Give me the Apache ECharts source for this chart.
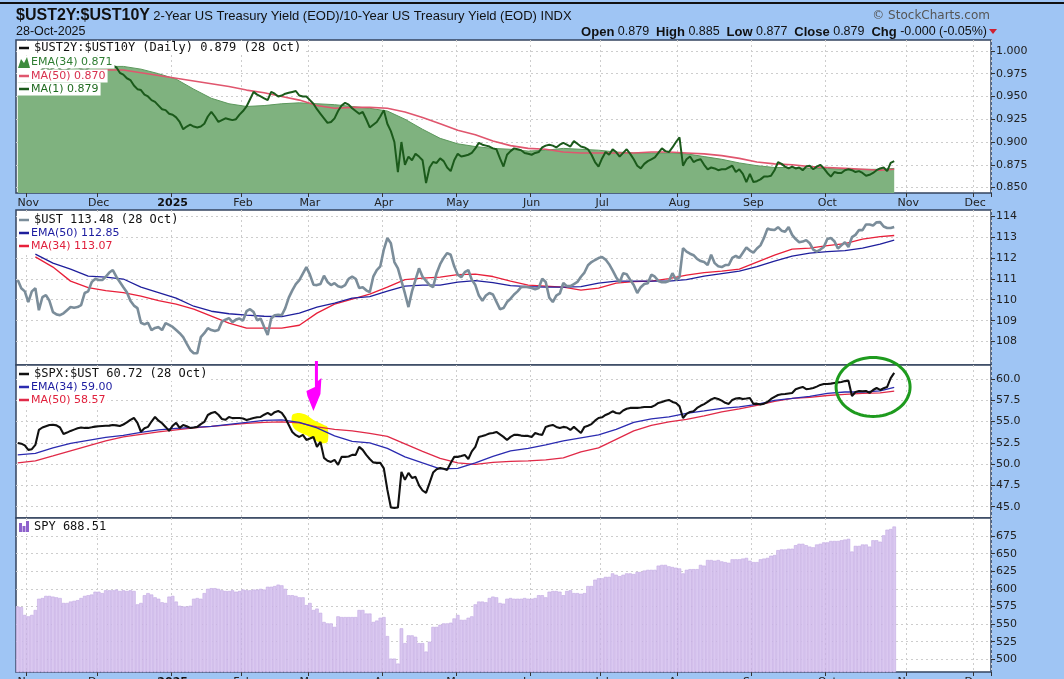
<!DOCTYPE html>
<html>
<head>
<meta charset="utf-8">
<script src="https://cdn.jsdelivr.net/npm/echarts@6/dist/echarts.min.js"></script>
<style>
html, body { margin: 0; padding: 0; background: #9fc5f4; }
#chart { width: 1064px; height: 679px; }
</style>
</head>
<body>
<div id="chart"></div>
<script>
// trading days, Oct 29 2024 .. Dec 5 2025 (the x axis runs past the last close)
var holidays = ['2024-11-28','2024-12-25','2025-01-01','2025-01-09','2025-01-20','2025-02-17',
  '2025-04-18','2025-05-26','2025-06-19','2025-07-04','2025-09-01','2025-11-27'];
var days = [];
(function () {
  var t = Date.UTC(2024, 9, 29), end = Date.UTC(2025, 11, 5);
  for (; t <= end; t += 86400000) {
    var d = new Date(t), s = d.toISOString().slice(0, 10), wd = d.getUTCDay();
    if (wd > 0 && wd < 6 && holidays.indexOf(s) < 0) days.push(s);
  }
})();
var monthNames = ['Jan','Feb','Mar','Apr','May','Jun','Jul','Aug','Sep','Oct','Nov','Dec'];

// $UST2Y:$UST10Y daily close (MA(1))
var ratio = [
  0.968,0.970,0.966,0.972,0.975,0.978,0.976,0.980,0.982,0.979,
  0.981,0.984,0.980,0.977,0.979,0.982,0.985,0.983,0.980,0.978,
  0.981,0.984,0.986,0.988,0.985,0.983,0.986,0.984,0.982,0.976,
  0.974,0.970,0.968,0.962,0.958,0.957,0.952,0.950,0.946,0.944,
  0.940,0.936,0.935,0.931,0.930,0.927,0.922,0.914,0.917,0.919,
  0.917,0.916,0.917,0.920,0.928,0.933,0.928,0.922,0.924,0.926,
  0.925,0.924,0.925,0.930,0.934,0.939,0.947,0.955,0.952,0.950,
  0.948,0.946,0.955,0.953,0.950,0.951,0.953,0.954,0.955,0.956,
  0.951,0.950,0.950,0.946,0.942,0.936,0.931,0.926,0.921,0.922,
  0.926,0.934,0.940,0.943,0.941,0.937,0.934,0.931,0.933,0.925,
  0.916,0.919,0.922,0.928,0.935,0.920,0.912,0.900,0.867,0.900,
  0.875,0.884,0.880,0.887,0.884,0.880,0.855,0.872,0.878,0.877,
  0.882,0.879,0.872,0.868,0.880,0.887,0.884,0.885,0.886,0.888,
  0.893,0.899,0.897,0.896,0.895,0.893,0.892,0.882,0.873,0.886,
  0.890,0.893,0.892,0.891,0.888,0.887,0.886,0.888,0.889,0.894,
  0.896,0.897,0.896,0.894,0.897,0.899,0.897,0.895,0.901,0.898,
  0.895,0.894,0.892,0.886,0.878,0.873,0.882,0.889,0.886,0.892,
  0.889,0.884,0.888,0.892,0.887,0.881,0.874,0.871,0.876,0.879,
  0.881,0.883,0.888,0.893,0.890,0.889,0.894,0.900,0.905,0.874,
  0.881,0.884,0.878,0.880,0.881,0.875,0.870,0.872,0.871,0.869,
  0.870,0.870,0.872,0.874,0.867,0.870,0.865,0.856,0.865,0.856,
  0.857,0.859,0.862,0.862,0.863,0.869,0.878,0.876,0.873,0.871,
  0.873,0.871,0.872,0.869,0.873,0.874,0.870,0.873,0.875,0.871,
  0.866,0.862,0.867,0.866,0.866,0.869,0.870,0.869,0.867,0.868,
  0.866,0.863,0.864,0.866,0.869,0.871,0.872,0.868,0.877,0.879
];
// moving averages are read every 5th trading day (plus the last close)
var maDays = [];
for (var k = 0; k < 50; k++) maDays.push(k * 5);
maDays.push(249);

var ratioEma34 = [0.976,0.977,0.979,0.980,0.982,0.983,0.983,0.980,0.975,0.969,
  0.958,0.948,0.942,0.939,0.940,0.942,0.943,0.942,0.941,0.939,
  0.937,0.934,0.925,0.914,0.904,0.898,0.895,0.893,0.892,0.890,
  0.891,0.893,0.892,0.891,0.889,0.888,0.888,0.888,0.887,0.884,
  0.881,0.877,0.874,0.872,0.872,0.871,0.871,0.870,0.870,0.870,0.871];
var ratioMa50 = [0.970,0.972,0.974,0.976,0.978,0.979,0.979,0.976,0.973,0.970,
  0.967,0.964,0.961,0.957,0.954,0.950,0.946,0.940,0.937,0.938,
  0.938,0.937,0.933,0.927,0.920,0.913,0.908,0.901,0.896,0.893,
  0.892,0.889,0.888,0.888,0.888,0.888,0.889,0.889,0.888,0.887,
  0.885,0.882,0.878,0.876,0.875,0.873,0.872,0.871,0.870,0.869,0.870];

// $UST
var ust = [
  110.94,110.55,110.40,109.89,110.40,110.55,109.50,110.12,110.22,109.95,
  109.41,109.30,109.26,109.35,109.50,109.65,109.62,109.65,109.74,110.32,
  110.40,110.84,111.00,110.94,110.94,111.10,111.30,111.42,111.10,110.85,
  110.60,110.36,109.95,109.72,109.60,108.90,108.82,108.90,108.55,108.65,
  108.69,108.55,108.88,108.80,108.70,108.55,108.40,108.21,107.90,107.60,
  107.44,107.44,108.21,108.40,108.64,108.55,108.50,108.55,108.95,109.05,
  109.12,108.93,109.05,109.10,109.00,109.45,109.55,109.41,109.02,109.10,
  108.70,108.31,109.10,109.26,109.28,109.26,109.60,110.10,110.45,110.75,
  110.94,111.25,111.56,111.20,110.72,110.70,110.75,111.15,110.85,110.70,
  110.79,110.65,110.60,110.70,111.00,111.10,111.00,110.56,110.60,110.45,
  110.36,111.10,111.42,111.60,112.40,112.95,112.70,111.80,111.50,110.90,
  110.30,109.65,110.40,110.95,111.50,111.10,110.90,110.70,110.60,111.27,
  111.70,112.00,112.23,112.15,111.60,111.20,111.08,111.32,111.42,110.95,
  110.70,110.20,109.95,110.20,110.32,110.25,109.90,109.55,109.60,109.89,
  110.05,110.25,110.40,110.60,110.62,110.60,110.56,110.50,110.56,111.00,
  110.85,110.10,109.89,110.20,110.30,110.80,110.65,110.65,110.75,110.85,
  111.10,111.30,111.65,111.80,111.90,111.99,112.04,111.92,111.70,111.40,
  111.08,110.84,111.27,111.22,110.95,110.70,110.32,110.60,110.75,110.79,
  111.20,111.10,110.90,110.84,110.84,110.90,111.27,110.95,111.08,112.47,
  112.30,112.20,112.13,111.95,111.85,111.80,111.66,112.15,111.75,111.60,
  111.56,111.66,111.66,112.00,112.10,112.00,112.25,112.50,112.35,112.25,
  112.45,112.60,112.95,113.40,113.35,113.33,113.47,113.30,113.25,113.47,
  113.10,112.90,112.75,112.78,112.85,112.70,112.40,112.30,112.40,112.52,
  112.90,112.95,112.80,112.45,112.60,112.75,112.52,112.99,113.10,113.33,
  113.33,113.60,113.60,113.55,113.70,113.71,113.50,113.43,113.43,113.48
];
var ustEma50 = [null,112.18,111.75,111.46,111.13,111.08,110.99,110.60,110.34,110.08,
  109.69,109.45,109.33,109.26,109.21,109.19,109.36,109.65,109.84,110.08,
  110.15,110.41,110.65,110.70,110.70,110.84,110.91,110.82,110.67,110.63,
  110.60,110.60,110.63,110.79,110.89,110.89,110.89,110.89,110.96,111.13,
  111.25,111.37,111.58,111.85,112.09,112.23,112.30,112.35,112.47,112.66,112.85];
var ustMa34 = [null,112.05,111.56,110.89,110.58,110.44,110.34,110.17,109.96,109.79,
  109.55,109.22,108.88,108.64,108.64,108.64,108.78,109.36,109.79,110.03,
  110.27,110.60,110.96,111.03,111.08,111.20,111.22,111.11,110.89,110.70,
  110.65,110.60,110.46,110.56,110.79,110.87,110.89,111.01,111.18,111.30,
  111.37,111.46,111.80,112.13,112.42,112.47,112.59,112.68,112.90,113.02,113.07];

// $SPX:$UST
var spxUst = [
  52.49,52.40,52.20,51.67,51.75,52.25,54.01,54.30,54.45,54.60,
  54.62,54.55,54.30,53.54,53.70,53.90,54.05,54.20,54.30,54.25,
  54.25,54.32,54.40,54.45,54.48,54.50,54.52,54.60,54.55,54.48,
  54.65,54.90,55.20,55.42,54.84,53.80,54.20,54.37,55.00,55.54,
  55.10,54.80,54.37,53.90,54.50,54.84,54.25,54.60,54.45,54.25,
  54.30,54.37,54.70,54.95,55.77,56.00,56.13,55.80,55.30,55.20,
  55.54,55.40,55.42,55.42,55.35,55.19,55.30,55.42,55.50,55.54,
  55.80,56.01,55.77,56.10,56.24,56.01,55.42,54.60,53.78,53.40,
  53.19,53.43,52.84,53.00,53.19,52.02,52.61,50.73,50.40,50.26,
  50.49,49.91,50.85,50.85,50.90,51.08,51.08,52.02,51.67,51.08,
  50.60,50.20,50.14,50.14,49.50,47.00,44.90,44.86,44.90,49.08,
  48.15,48.97,48.38,48.50,47.50,46.90,46.62,47.79,49.00,49.40,
  49.55,49.45,49.32,50.14,50.85,50.85,50.95,51.08,50.60,51.50,
  52.02,53.19,53.30,53.43,53.60,53.66,53.78,53.50,53.20,52.84,
  53.20,53.43,53.43,53.35,53.31,53.31,53.19,53.66,53.50,53.43,
  54.37,54.50,54.60,54.37,54.25,54.37,54.30,54.01,54.37,54.00,
  53.66,54.37,54.50,54.70,55.10,55.42,55.50,55.77,55.95,56.20,
  56.01,55.95,56.30,56.50,56.60,56.62,56.60,56.65,56.71,56.71,
  56.70,56.90,57.18,57.30,57.45,57.54,57.30,57.18,56.80,55.42,
  55.90,56.13,56.20,56.60,56.85,57.05,57.30,57.60,57.77,57.65,
  57.45,57.20,57.07,57.54,57.70,57.75,57.65,57.70,57.77,57.07,
  57.10,57.00,57.10,57.30,57.65,57.90,58.12,58.20,58.24,58.30,
  58.36,58.80,58.94,59.06,58.80,58.85,58.94,59.10,59.30,59.41,
  59.41,59.45,59.53,59.60,59.65,59.75,59.80,58.00,58.47,58.59,
  58.55,58.59,58.36,58.70,58.94,58.71,58.90,59.06,60.10,60.72
];
var spxEma34 = [51.08,51.26,51.90,52.43,52.78,53.13,53.37,53.72,54.01,54.19,
  54.31,54.42,54.66,54.89,55.13,55.19,54.89,54.25,53.31,52.66,
  52.49,51.84,50.85,50.14,49.44,49.50,50.14,50.90,51.55,51.84,
  52.25,52.72,53.08,53.43,54.07,54.89,55.31,55.54,55.95,56.24,
  56.54,56.71,57.01,57.48,57.71,57.95,58.30,58.47,58.47,58.59,59.00];
var spxMa50 = [50.14,50.38,50.96,51.55,52.14,52.72,53.19,53.49,53.78,54.01,
  54.25,54.42,54.60,54.78,54.89,54.95,54.84,54.37,54.07,53.90,
  53.60,53.25,52.37,51.49,50.67,50.14,49.96,50.20,50.32,50.38,
  50.49,50.73,51.43,51.90,52.90,53.90,54.54,54.95,55.25,55.66,
  56.13,56.48,56.89,57.36,57.71,57.83,58.06,58.18,58.30,58.36,58.57];

// SPY close
var spy = [
  575,574,563,561,563,570,586,587,590,590,
  589,588,587,580,580,582,583,584,587,590,
  591,592,596,596,594,598,598,598,599,597,
  598,597,598,597,578,580,591,594,592,588,
  586,581,580,589,590,582,576,575,575,576,
  586,587,586,594,600,601,601,600,598,597,
  597,598,596,597,599,598,598,599,599,600,
  599,603,603,604,606,605,600,591,591,590,
  588,588,577,580,570,572,566,553,551,551,
  546,561,560,560,560,560,560,570,570,565,
  565,553,555,559,560,533,501,501,494,544,
  523,534,534,532,523,523,511,525,546,546,
  549,551,551,552,558,563,556,556,559,561,
  578,582,582,581,587,589,588,580,579,586,
  587,586,586,586,587,586,586,587,591,591,
  588,596,597,597,596,591,597,598,594,594,
  593,594,604,604,613,615,615,617,617,622,
  620,618,620,622,622,621,624,624,626,627,
  627,627,633,634,634,632,631,630,629,622,
  627,628,628,628,634,633,641,641,640,641,
  639,638,637,642,642,642,643,644,640,638,
  638,642,643,644,647,648,655,656,656,657,
  657,662,664,664,662,660,659,663,664,666,
  666,668,668,668,669,670,671,653,661,661,
  663,663,660,669,669,667,676,684,685,688.51
];

// y tick labels per panel
var ratioTicks = [0.85, 0.875, 0.9, 0.925, 0.95, 0.975, 1.0];
var ustTicks = [108, 109, 110, 111, 112, 113, 114];
var spxTicks = [45, 47.5, 50, 52.5, 55, 57.5, 60];
var spyTicks = [500, 525, 550, 575, 600, 625, 650, 675];

function pairs(vals) {
  var out = [];
  for (var j = 0; j < vals.length; j++) {
    if (vals[j] != null) out.push([maDays[j], vals[j]]);
  }
  return out;
}
function isMonthStart(i) {
  return i > 0 && days[i].slice(0, 7) !== days[i - 1].slice(0, 7);
}
function monthLabel(v) {
  var m = +v.slice(5, 7);
  return m === 1 ? '{y|' + v.slice(0, 4) + '}' : monthNames[m - 1];
}

var gridLine = { color: '#cdcdcd', type: [2, 3], width: 1 };
var panelBorder = '#34445f';

function xAxisFor(gi, labels, margin) {
  return {
    type: 'category', gridIndex: gi, data: days, boundaryGap: true,
    axisLine: { show: false },
    axisTick: { show: labels, interval: isMonthStart, length: 4, lineStyle: { color: '#333' } },
    axisLabel: {
      show: labels, interval: isMonthStart, formatter: monthLabel, margin: margin || 5,
      color: '#222', fontSize: 11, fontFamily: 'DejaVu Sans',
      rich: { y: { fontWeight: 'bold', fontSize: 11, fontFamily: 'DejaVu Sans', color: '#111' } }
    },
    splitLine: { show: true, interval: isMonthStart, lineStyle: gridLine }
  };
}
function yAxisFor(gi, min, max, ticks, dec) {
  return {
    type: 'value', gridIndex: gi, position: 'right', min: min, max: max,
    axisLine: { show: false },
    axisTick: { show: true, length: 4, customValues: ticks, lineStyle: { color: '#333' } },
    axisLabel: {
      customValues: ticks, margin: 5, color: '#222', fontSize: 11, fontFamily: 'DejaVu Sans',
      formatter: function (v) { return v.toFixed(dec); }
    },
    splitLine: { show: true, lineStyle: gridLine }
  };
}
function gridFor(top, height) {
  return { left: 16, right: 73, top: top, height: height, show: true, outerBoundsMode: 'none',
    containLabel: false, backgroundColor: '#fff', borderColor: panelBorder, borderWidth: 1.5 };
}
function line(xi, data, color, width, z) {
  return { type: 'line', xAxisIndex: xi, yAxisIndex: xi, data: data, symbol: 'none',
    lineStyle: { color: color, width: width }, z: z || 3, animation: false };
}

var chart = echarts.init(document.getElementById('chart'));
var option = {
  backgroundColor: '#9fc5f4',
  animation: false,
  grid: [gridFor(40, 153), gridFor(210, 155), gridFor(365, 153), gridFor(518, 154)],
  xAxis: [xAxisFor(0, true), xAxisFor(1, false), xAxisFor(2, false), xAxisFor(3, true, 5)],
  yAxis: [
    yAxisFor(0, 0.844, 1.012, ratioTicks, 3),
    yAxisFor(1, 106.88, 114.29, ustTicks, 0),
    yAxisFor(2, 43.67, 61.64, spxTicks, 1),
    yAxisFor(3, 482, 700.6, spyTicks, 0)
  ],
  series: [
    {
      type: 'line', xAxisIndex: 0, yAxisIndex: 0, data: pairs(ratioEma34), symbol: 'none',
      lineStyle: { color: '#5c985c', width: 1 },
      areaStyle: { color: '#7fb27f', opacity: 1, origin: 'start' }, z: 2
    },
    line(0, pairs(ratioMa50), '#e0566e', 1.6),
    line(0, ratio, '#1b5a1b', 2),
    line(1, pairs(ustMa34), '#e8203a', 1.3),
    line(1, pairs(ustEma50), '#1f1f9c', 1.3),
    line(1, ust, '#7b8d9a', 2.6, 4),
    line(2, pairs(spxMa50), '#e02a48', 1.3),
    line(2, pairs(spxEma34), '#2b2bb0', 1.3),
    line(2, spxUst, '#111111', 2.1, 4),
    {
      type: 'bar', xAxisIndex: 3, yAxisIndex: 3, data: spy, barCategoryGap: '0%',
      itemStyle: { color: '#dac8f0', borderColor: '#c2a9e3', borderWidth: 0.6 }, clip: true
    }
  ]
};
chart.setOption(option);

// header, legends and the hand-drawn marks
var mono = '12px "DejaVu Sans Mono"';
var prop = '11px "DejaVu Sans"';
var els = [];
// each legend row sits on a white strip that starts at the panel edge
function legendText(y, text, color, font, lead) {
  els.push({ type: 'text', x: 17, y: y, z: 100,
    style: { text: text, font: font, fill: color, verticalAlign: 'middle',
      backgroundColor: '#fff', padding: [1, 2, 1, lead] } });
}
function dash(y, color) {
  els.push({ type: 'rect', z: 101, shape: { x: 19, y: y - 1.25, width: 10, height: 2.5 },
    style: { fill: color } });
}

els.push({ type: 'rect', z: 100, shape: { x: 0, y: 2, width: 1064, height: 2 }, style: { fill: '#111' } });
els.push({ type: 'text', x: 16, y: 16, z: 100, style: {
  text: '{t|$UST2Y:$UST10Y} {s|2-Year US Treasury Yield (EOD)/10-Year US Treasury Yield (EOD) INDX}',
  verticalAlign: 'middle',
  rich: {
    t: { font: 'bold 16px "Liberation Sans"', fill: '#111' },
    s: { font: '13px "Liberation Sans"', fill: '#111' }
  } } });
els.push({ type: 'text', x: 16, y: 32, z: 100, style: { text: '28-Oct-2025',
  font: '12.5px "Liberation Sans"', fill: '#111', verticalAlign: 'middle' } });
els.push({ type: 'text', x: 990, y: 16, z: 100, style: { text: '\u00a9 StockCharts.com',
  font: '12px "DejaVu Sans"', fill: '#555', align: 'right', verticalAlign: 'middle' } });
els.push({ type: 'text', x: 987, y: 32, z: 100, style: {
  text: '{b|Open} 0.879  {b|High} 0.885  {b|Low} 0.877  {b|Close} 0.879  {b|Chg} -0.000 (-0.05%)',
  font: '12.5px "Liberation Sans"', fill: '#111', align: 'right', verticalAlign: 'middle',
  rich: { b: { font: 'bold 13px "Liberation Sans"', fill: '#111' } } } });
els.push({ type: 'polygon', z: 100, shape: { points: [[989, 29], [997, 29], [993, 34]] },
  style: { fill: '#d02030' } });

// panel 1 legend
legendText(48, '$UST2Y:$UST10Y (Daily) 0.879 (28 Oct)', '#111', mono, 17);
dash(48, '#111');
legendText(62, 'EMA(34) 0.871', '#2e7d32', prop, 14);
els.push({ type: 'polygon', z: 101, shape: { points: [[18, 68], [21, 59], [24, 63], [27, 57], [30, 68]] },
  style: { fill: '#3d8b3d' } });
legendText(76, 'MA(50) 0.870', '#d8304e', prop, 14);
dash(76, '#e0566e');
legendText(89, 'MA(1) 0.879', '#1f6b1f', prop, 14);
dash(89, '#1b5a1b');
// panel 2 legend
legendText(220, '$UST 113.48 (28 Oct)', '#111', mono, 17);
dash(220, '#7b8d9a');
legendText(233, 'EMA(50) 112.85', '#1c1ca0', prop, 14);
dash(233, '#1f1f9c');
legendText(246, 'MA(34) 113.07', '#e0203c', prop, 14);
dash(246, '#e8203a');
// panel 3 legend
legendText(374, '$SPX:$UST 60.72 (28 Oct)', '#111', mono, 17);
dash(374, '#111');
legendText(387, 'EMA(34) 59.00', '#1c1ca0', prop, 14);
dash(387, '#2b2bb0');
legendText(400, 'MA(50) 58.57', '#e0203c', prop, 14);
dash(400, '#e02a48');
// panel 4 legend
legendText(527, 'SPY 688.51', '#111', mono, 17);
[[19, 523, 3, 9], [22.5, 526, 3, 6], [26, 521, 3, 11]].forEach(function (b) {
  els.push({ type: 'rect', z: 101, shape: { x: b[0], y: b[1], width: b[2], height: b[3] },
    style: { fill: '#8e62cc' } });
});

function px(gi, idx, val) { return chart.convertToPixel({ gridIndex: gi }, [idx, val]); }

// yellow highlight where $SPX:$UST rolled under its averages
var blobData = [[78.1, 55.77], [80.1, 56.01], [82.1, 55.77], [83.8, 55.19], [87.2, 54.60],
  [87.8, 54.37], [87.8, 52.61], [85.8, 52.49], [82.9, 53.19], [79.2, 54.01], [78.1, 54.60]];
els.push({ type: 'polygon', z: 1, shape: { points: blobData.map(function (p) { return px(2, p[0], p[1]); }), smooth: 0.3 },
  style: { fill: '#ffff00' } });

// magenta arrow
var tip = px(2, 83.5, 56.24);
var arrow = [[1.5, -50], [4.5, -50], [4.5, -30], [8, -33], [7, -17], [0, 0], [-6, -15], [-7, -20], [1.5, -24]];
els.push({ type: 'polygon', z: 110, shape: { points: arrow.map(function (p) { return [tip[0] + p[0], tip[1] + p[1]]; }) },
  style: { fill: '#ff00ff' } });

// green ring around the latest move
var c = px(2, 243.1, 59.06), ring = [];
for (var a = 0; a <= 72; a++) {
  var th = a / 72 * 2 * Math.PI;
  ring.push([c[0] + 37 * Math.cos(th), c[1] + 29.5 * Math.sin(th)]);
}
els.push({ type: 'polyline', z: 110, shape: { points: ring },
  style: { stroke: '#1e9b1e', lineWidth: 3, fill: null } });

chart.setOption({ graphic: els });
</script>
</body>
</html>
